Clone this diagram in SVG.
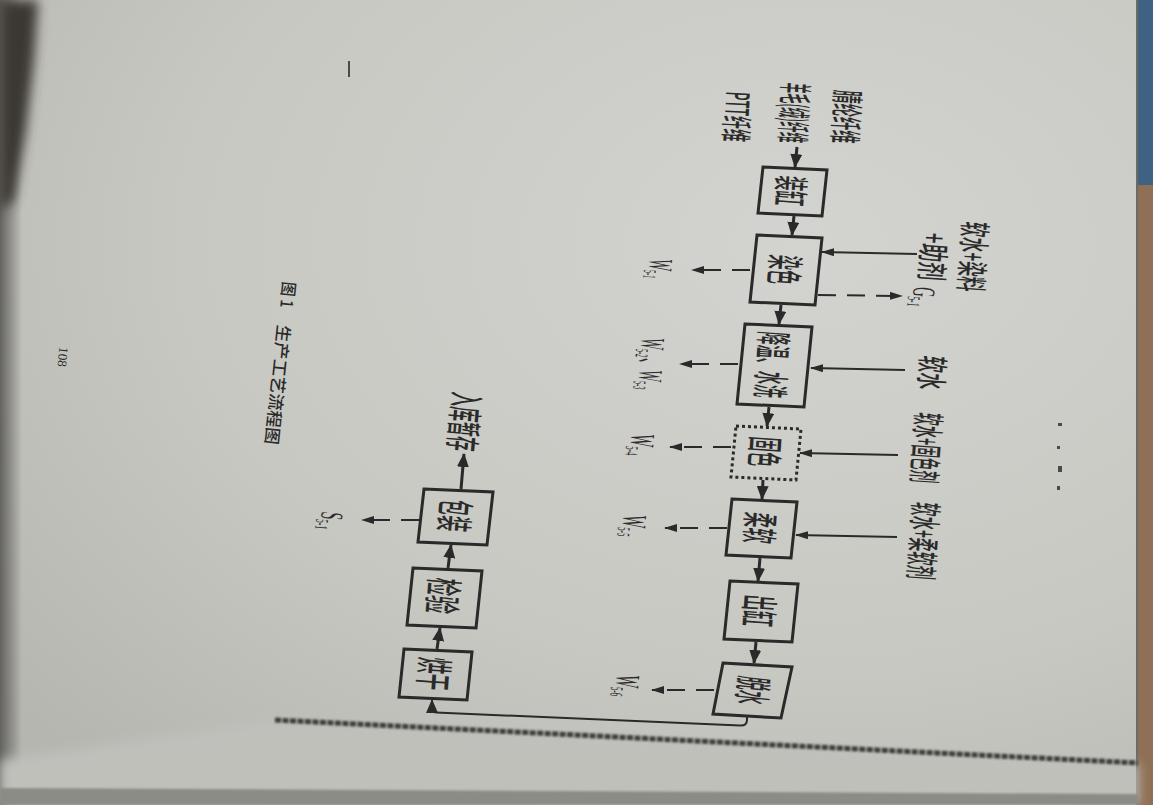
<svg xmlns="http://www.w3.org/2000/svg" width="1153" height="805" viewBox="0 0 1153 805">
<defs>
<style>
.t{font-family:"Noto Sans CJK SC","Noto Sans",sans-serif;fill:#2a2a2a;dominant-baseline:central;font-weight:500}
.w{font-family:"Liberation Serif","DejaVu Serif",serif;fill:#2a2a2a}
.box{fill:none;stroke:#2a2a2a;stroke-width:3;stroke-linejoin:miter}
.dbox{fill:none;stroke:#2a2a2a;stroke-width:3;stroke-dasharray:3 3}
.flow{fill:none;stroke:#2a2a2a;stroke-width:3;marker-end:url(#ah)}
.in{fill:none;stroke:#2a2a2a;stroke-width:2;marker-end:url(#ahs)}
.out{fill:none;stroke:#2a2a2a;stroke-width:2;stroke-dasharray:18 11;marker-end:url(#ahs)}
</style>
<marker id="ah" markerUnits="userSpaceOnUse" markerWidth="14" markerHeight="12" viewBox="0 0 14 12" refX="13" refY="6" orient="auto"><path d="M0,0 L14,6 L0,12 z" fill="#2a2a2a"/></marker>
<marker id="ahs" markerUnits="userSpaceOnUse" markerWidth="13" markerHeight="8" viewBox="0 0 13 8" refX="12" refY="4" orient="auto"><path d="M0,0 L13,4 L0,8 z" fill="#2a2a2a"/></marker>
<radialGradient id="paper" cx="0.7" cy="0.3" r="0.9">
<stop offset="0" stop-color="#d3d3cf"/>
<stop offset="0.6" stop-color="#c8c8c3"/>
<stop offset="1" stop-color="#b6b6b1"/>
</radialGradient>
<linearGradient id="leftedge" x1="0" y1="0" x2="1" y2="0">
<stop offset="0" stop-color="#5a5955" stop-opacity="0.9"/>
<stop offset="1" stop-color="#5a5955" stop-opacity="0"/>
</linearGradient>
<filter id="blur" x="-50%" y="-50%" width="200%" height="200%"><feGaussianBlur stdDeviation="6"/></filter>
<filter id="soft"><feGaussianBlur stdDeviation="1"/></filter>
</defs>

<!-- background / photo surroundings -->
<g id="background">
<rect x="0" y="0" width="1153" height="805" fill="url(#paper)"/>
<rect x="0" y="0" width="22" height="805" fill="url(#leftedge)"/>
<path d="M0,0 L38,0 L34,60 L26,130 L14,200 L0,210 Z" fill="#3a3733" filter="url(#blur)"/>
<rect x="1138" y="0" width="15" height="185" fill="#3f6283"/>
<rect x="1138" y="185" width="15" height="620" fill="#8f6f55"/>
<line x1="1137" y1="0" x2="1137" y2="805" stroke="#6b6b66" stroke-width="2"/>
<polygon points="275,721 1138,764 1138,805 0,805 0,760" fill="#c0c0bb" filter="url(#blur)"/>
<polygon points="0,788 1138,794 1138,805 0,805" fill="#8c8c87" filter="url(#soft)"/>
<line x1="275" y1="720" x2="1138" y2="763" stroke="#3d3d3a" stroke-width="5" stroke-dasharray="6 1.5" filter="url(#soft)"/>
<line x1="349" y1="61" x2="349" y2="77" stroke="#4a4a47" stroke-width="2"/>
<rect x="1058" y="423" width="4" height="3" fill="#4a4a47"/>
<rect x="1057" y="446" width="3" height="3" fill="#4a4a47"/>
<rect x="1058" y="466" width="4" height="6" fill="#4a4a47"/>
<rect x="1057" y="486" width="3" height="4" fill="#4a4a47"/>
</g>

<!-- connectors -->
<g id="connectors">
<line class="flow" x1="797" y1="147" x2="795" y2="167"/>
<line class="flow" x1="794" y1="216" x2="792" y2="235"/>
<line class="flow" x1="781" y1="305" x2="779" y2="324"/>
<line class="flow" x1="769" y1="407" x2="767" y2="426"/>
<line class="flow" x1="763" y1="480" x2="762" y2="499"/>
<line class="flow" x1="760" y1="558" x2="758" y2="581"/>
<line class="flow" x1="756" y1="642" x2="754" y2="663"/>
<path class="flow" style="stroke-width:2" d="M747,716 L747,720 Q747,726 740,725.5 L436,712.5 Q432,712.3 432,709 L432,700"/>
<line class="flow" x1="437" y1="649" x2="440" y2="628"/>
<line class="flow" x1="448" y1="568" x2="451" y2="545"/>
<line class="flow" x1="461" y1="489" x2="464" y2="454"/>

<line class="in" x1="917" y1="254" x2="822" y2="252"/>
<line class="in" x1="905" y1="370" x2="811" y2="368"/>
<line class="in" x1="898" y1="455" x2="800" y2="453"/>
<line class="in" x1="897" y1="537" x2="796" y2="535"/>

<line class="out" x1="750" y1="270" x2="692" y2="270"/>
<line class="out" x1="818" y1="295" x2="902" y2="296"/>
<line class="out" x1="738" y1="364" x2="680" y2="364"/>
<line class="out" x1="731" y1="447" x2="670" y2="447"/>
<line class="out" x1="727" y1="528" x2="665" y2="528"/>
<line class="out" x1="714" y1="690" x2="652" y2="690"/>
<line class="out" x1="419" y1="520" x2="362" y2="520"/>
</g>

<!-- nodes -->
<g id="node-zhuanggang">
<polygon class="box" points="763,167 827,170 822,216 758,213"/>
<text class="t" font-size="36" transform="translate(793,191) rotate(94)" x="-15" textLength="30" lengthAdjust="spacingAndGlyphs">装缸</text>
</g>
<g id="node-ranse">
<polygon class="box" points="757,235 822,238 815,305 750,302"/>
<text class="t" font-size="38" transform="translate(787,270) rotate(94)" x="-15" textLength="30" lengthAdjust="spacingAndGlyphs">染色</text>
</g>
<g id="node-jiangwen">
<polygon class="box" points="745,324 812,327 804,407 737,404"/>
<text class="t" font-size="37" transform="translate(774,365) rotate(94)" x="-33" textLength="66" lengthAdjust="spacingAndGlyphs">降温、水洗</text>
</g>
<g id="node-guse">
<polygon class="dbox" points="736,426 801,429 796,480 731,477"/>
<text class="t" font-size="37" transform="translate(767,452) rotate(94)" x="-15" textLength="30" lengthAdjust="spacingAndGlyphs">固色</text>
</g>
<g id="node-rouruan">
<polygon class="box" points="732,499 797,502 791,558 726,555"/>
<text class="t" font-size="37" transform="translate(762,528) rotate(94)" x="-15.5" textLength="31" lengthAdjust="spacingAndGlyphs">柔软</text>
</g>
<g id="node-chugang">
<polygon class="box" points="730,581 798,584 792,642 724,639"/>
<text class="t" font-size="38" transform="translate(761,611) rotate(94)" x="-16" textLength="32" lengthAdjust="spacingAndGlyphs">出缸</text>
</g>
<g id="node-tuoshui">
<polygon class="box" points="723,663 792,667 781,718 713,714"/>
<text class="t" font-size="38" transform="translate(755,691) rotate(96)" x="-14" textLength="28" lengthAdjust="spacingAndGlyphs">脱水</text>
</g>
<g id="node-honggan">
<polygon class="box" points="404,649 472,652 467,700 399,697"/>
<text class="t" font-size="38" transform="translate(436,674) rotate(94)" x="-16.5" textLength="33" lengthAdjust="spacingAndGlyphs">烘干</text>
</g>
<g id="node-jianyan">
<polygon class="box" points="413,568 482,571 476,628 407,625"/>
<text class="t" font-size="38" transform="translate(445,596) rotate(95)" x="-18" textLength="36" lengthAdjust="spacingAndGlyphs">检验</text>
</g>
<g id="node-baozhuang">
<polygon class="box" points="424,489 493,492 487,545 418,542"/>
<text class="t" font-size="38" transform="translate(457,516) rotate(95)" x="-16" textLength="32" lengthAdjust="spacingAndGlyphs">包装</text>
</g>
<g id="node-ruku">
<text class="t" font-size="36" transform="translate(467,422) rotate(95)" x="-29.5" textLength="59" lengthAdjust="spacingAndGlyphs">入库暂存</text>
</g>

<!-- input labels -->
<g id="node-inputs">
<text class="t" font-size="33" transform="translate(848,117) rotate(93)" x="-26.5" textLength="53" lengthAdjust="spacingAndGlyphs">腈纶纤维</text>
<text class="t" font-size="34" transform="translate(796,113) rotate(93)" x="-30" textLength="60" lengthAdjust="spacingAndGlyphs">羊毛(绒)纤维</text>
<text class="t" font-size="32" transform="translate(739,117) rotate(93)" x="-25" textLength="50" lengthAdjust="spacingAndGlyphs">PTT纤维</text>
</g>

<g id="labels-right">
<text class="t" font-size="32" transform="translate(975,257) rotate(94)" x="-35" textLength="70" lengthAdjust="spacingAndGlyphs">软水+染料</text>
<text class="t" font-size="32" transform="translate(935,257) rotate(94)" x="-24" textLength="48" lengthAdjust="spacingAndGlyphs">+助剂</text>
<text class="t" font-size="32" transform="translate(934,373) rotate(94)" x="-17" textLength="34" lengthAdjust="spacingAndGlyphs">软水</text>
<text class="t" font-size="33" transform="translate(928,448) rotate(94)" x="-35" textLength="70" lengthAdjust="spacingAndGlyphs">软水+固色剂</text>
<text class="t" font-size="33" transform="translate(925,541) rotate(94)" x="-38.5" textLength="77" lengthAdjust="spacingAndGlyphs">软水+柔软剂</text>
</g>

<g id="labels-emissions">
<text class="w" font-size="32" transform="translate(921,297) rotate(94)" x="-10" y="8" textLength="20" lengthAdjust="spacingAndGlyphs">G<tspan font-size="18" dy="5">5-1</tspan></text>
<text class="w" font-size="34" transform="translate(657,269) rotate(94)" x="-10" y="8" textLength="20" lengthAdjust="spacingAndGlyphs">W<tspan font-size="18" dy="5">5-1</tspan></text>
<text class="w" font-size="34" transform="translate(648,364) rotate(94)" x="-26" y="8" textLength="52" lengthAdjust="spacingAndGlyphs">W<tspan font-size="18" dy="5">5-2</tspan><tspan dy="-5" font-family="Noto Sans CJK SC">、</tspan>W<tspan font-size="18" dy="5">5-3</tspan></text>
<text class="w" font-size="34" transform="translate(639,445) rotate(94)" x="-11" y="8" textLength="22" lengthAdjust="spacingAndGlyphs">W<tspan font-size="18" dy="5">5-4</tspan></text>
<text class="w" font-size="34" transform="translate(631,526) rotate(94)" x="-11" y="8" textLength="22" lengthAdjust="spacingAndGlyphs">W<tspan font-size="18" dy="5">5-5</tspan></text>
<text class="w" font-size="34" transform="translate(624,686) rotate(95)" x="-11" y="8" textLength="22" lengthAdjust="spacingAndGlyphs">W<tspan font-size="18" dy="5">5-6</tspan></text>
<text class="w" font-size="32" transform="translate(329,521) rotate(95)" x="-9" y="8" textLength="18" lengthAdjust="spacingAndGlyphs">S<tspan font-size="18" dy="5">5-1</tspan></text>
</g>

<g id="caption">
<text class="t" font-size="17" font-weight="700" transform="translate(289,295) rotate(96)" x="-13" textLength="26" lengthAdjust="spacingAndGlyphs">图 1</text>
<text class="t" font-size="17" font-weight="700" transform="translate(279,385) rotate(96)" x="-60" textLength="120" lengthAdjust="spacingAndGlyphs">生产工艺流程图</text>
<text class="w" font-size="13" transform="translate(63,357) rotate(96)" x="-10" y="0" style="dominant-baseline:central" textLength="20" lengthAdjust="spacingAndGlyphs">108</text>
</g>
</svg>
